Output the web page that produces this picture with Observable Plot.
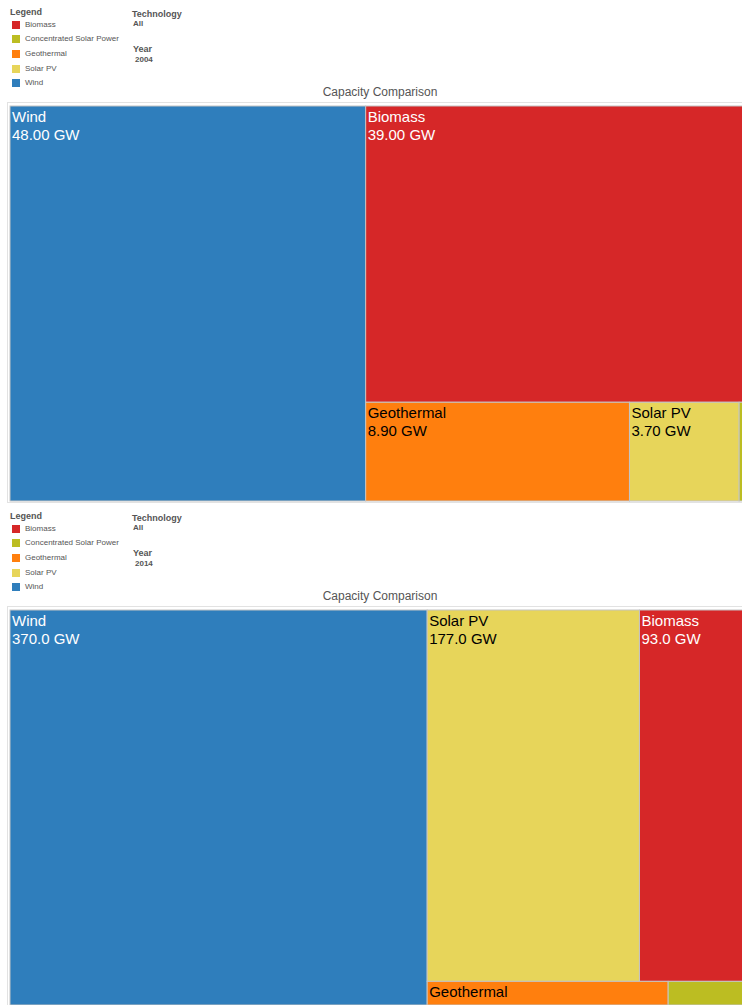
<!DOCTYPE html>
<html><head><meta charset="utf-8">
<script src="https://cdn.jsdelivr.net/npm/d3@7"></script>
<script src="https://cdn.jsdelivr.net/npm/@observablehq/plot@0.6"></script>
<style>
html,body{margin:0;padding:0;width:742px;height:1005px;overflow:hidden;background:#fff;font-family:"Liberation Sans",Arial,sans-serif;}
.panel{position:absolute;left:0;width:742px;height:504px;}
.abs{position:absolute;white-space:nowrap;}
.hdr{font-size:9px;font-weight:bold;color:#555;line-height:11px;}
.val{font-size:8px;font-weight:bold;color:#555;line-height:10px;}
.item{font-size:8px;color:#555;line-height:10px;}
.sw{position:absolute;width:8px;height:8px;}
.title{position:absolute;left:0;width:760px;text-align:center;font-size:12px;color:#555;line-height:14px;}
.frame{position:absolute;left:7px;width:800px;height:399px;border:1px solid #e2e2e2;}
.map{position:absolute;left:10px;width:741px;}
.map svg{max-width:none !important;}
</style>
</head><body>
<script>
// ---- data ----
const technologies = ["Biomass", "Concentrated Solar Power", "Geothermal", "Solar PV", "Wind"];
const techColors = ["#d62728", "#bcbd22", "#ff7f0e", "#e7d55a", "#2f7ebc"];
const labelColors = ["white", "black", "black", "black", "white"];
const years = ["2004", "2014"];
const capacity2004 = [39.0, 0.4, 8.9, 3.7, 48.0];
const capacity2014 = [93.0, 4.4, 12.8, 177.0, 370.0];
const valueDecimals = [2, 1];
const technologyFilter = "All";
const chartTitle = "Capacity Comparison";
const legendTitle = "Legend";

const capacities = [capacity2004, capacity2014];
const W = 741, H = 395;

years.forEach((year, p) => {
  const panel = document.createElement("div");
  panel.className = "panel";
  panel.style.top = (p * 504) + "px";
  document.body.appendChild(panel);

  const add = (cls, text, left, top) => {
    const d = document.createElement("div");
    d.className = "abs " + cls;
    d.textContent = text;
    d.style.left = left + "px";
    d.style.top = top + "px";
    panel.appendChild(d);
    return d;
  };
  add("hdr", legendTitle, 10, 6.5);
  technologies.forEach((t, i) => {
    const s = document.createElement("div");
    s.className = "sw";
    s.style.left = "12px";
    s.style.top = (20.8 + i * 14.6) + "px";
    s.style.background = techColors[i];
    panel.appendChild(s);
    add("item", t, 25, 19.8 + i * 14.6);
  });
  add("hdr", "Technology", 132, 9);
  add("val", technologyFilter, 133, 19);
  add("hdr", "Year", 133, 44);
  add("val", year, 135, 54.5);

  const title = document.createElement("div");
  title.className = "title";
  title.style.top = "85px";
  title.textContent = chartTitle;
  panel.appendChild(title);

  const frame = document.createElement("div");
  frame.className = "frame";
  frame.style.top = "102px";
  panel.appendChild(frame);

  const rows = technologies.map((t, i) => ({tech: t, value: capacities[p][i], idx: i}));
  const root = d3.hierarchy({children: rows}).sum(d => d.value || 0).sort((a, b) => b.value - a.value);
  d3.treemap().size([W, H]).tile(d3.treemapSquarify)(root);
  const leaves = root.leaves().map(n => {
    const d = n.data, w = n.x1 - n.x0, h = n.y1 - n.y0;
    const lines = [];
    if (d.tech.length * 15 * 0.56 <= w - 6 && h >= 20) {
      lines.push(d.tech);
      if (h >= 40) lines.push(d.value.toFixed(valueDecimals[p]) + " GW");
    }
    return {tech: d.tech, x0: n.x0, x1: n.x1, y0: n.y0, y1: n.y1, label: lines.join("\n"), textColor: labelColors[d.idx]};
  });
  const labeled = leaves.filter(d => d.label);

  const chart = Plot.plot({
    width: W, height: H, margin: 0,
    style: {fontFamily: "'Liberation Sans', Arial, sans-serif", background: "transparent", overflow: "visible", maxWidth: "none"},
    x: {domain: [0, W], range: [0, W], axis: null},
    y: {domain: [0, H], range: [0, H], axis: null},
    color: {domain: technologies, range: techColors},
    marks: [
      Plot.rect(leaves, {x1: "x0", x2: "x1", y1: "y0", y2: "y1", fill: "tech", stroke: "#c4c4c4", strokeWidth: 1}),
      Plot.text(labeled.filter(d => d.textColor === "white"), {x: "x0", y: "y0", text: "label", textAnchor: "start", lineAnchor: "top", dx: 1.5, dy: 2.5, fill: "white", fontSize: 15, lineHeight: 1.2}),
      Plot.text(labeled.filter(d => d.textColor === "black"), {x: "x0", y: "y0", text: "label", textAnchor: "start", lineAnchor: "top", dx: 1.5, dy: 2.5, fill: "black", fontSize: 15, lineHeight: 1.2})
    ]
  });
  chart.style.maxWidth = "none";
  const wrap = document.createElement("div");
  wrap.className = "map";
  wrap.style.top = "106px";
  wrap.appendChild(chart);
  panel.appendChild(wrap);
});
</script>
</body></html>
